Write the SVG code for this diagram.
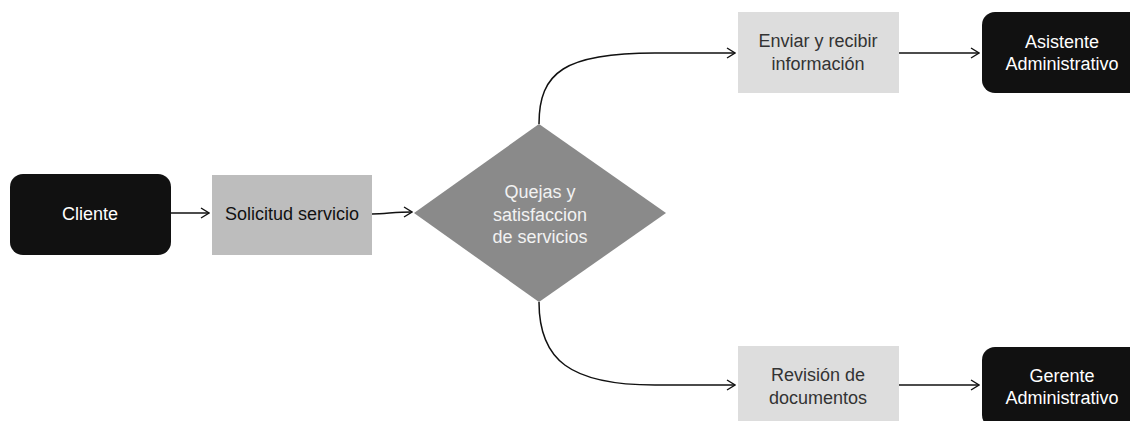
<svg xmlns="http://www.w3.org/2000/svg" width="1130" height="421" viewBox="0 0 1130 421">
<style>
.t{font-family:"Liberation Sans",Arial,sans-serif;font-size:18px;text-anchor:middle}
.dark{fill:#111}
.lt{fill:#333}
.w{fill:#fff}
.c{fill:none;stroke:#111;stroke-width:1.5}
</style>
<defs>
<marker id="a" markerWidth="10" markerHeight="12" refX="9" refY="6" orient="auto" markerUnits="userSpaceOnUse">
<path d="M1,1 L9,6 L1,11" fill="none" stroke="#111" stroke-width="1.4"/>
</marker>
</defs>
<rect width="1130" height="421" fill="#fff"/>
<g id="connectors">
<path class="c" d="M171,213 L209,213" marker-end="url(#a)"/>
<path class="c" d="M372,214 C385,214 395,212 412,212" marker-end="url(#a)"/>
<path class="c" d="M539,124 C539,72 565,53 655,53 L735,53" marker-end="url(#a)"/>
<path class="c" d="M539,302 C539,360 570,385 655,385 L735,385" marker-end="url(#a)"/>
<path class="c" d="M899,53 L979,53" marker-end="url(#a)"/>
<path class="c" d="M899,385 L979,385" marker-end="url(#a)"/>
</g>
<g id="cliente">
<rect x="10" y="174" width="161" height="81" rx="13" class="dark"/>
<text x="90" y="220" class="t w">Cliente</text>
</g>
<g id="solicitud">
<rect x="212" y="175" width="160" height="80" fill="#bdbdbd"/>
<text x="292" y="220" class="t" fill="#111">Solicitud servicio</text>
</g>
<g id="quejas">
<polygon points="539,124 666,213 539,302 414,213" fill="#8a8a8a"/>
<text x="540" y="198" class="t" fill="#f2f2f2" font-size="19.5">Quejas y</text>
<text x="540" y="221" class="t" fill="#f2f2f2" font-size="19.5">satisfaccion</text>
<text x="540" y="243" class="t" fill="#f2f2f2" font-size="19.5">de servicios</text>
</g>
<g id="enviar">
<rect x="738" y="12" width="161" height="81" fill="#dddddd"/>
<text x="818" y="47" class="t lt">Enviar y recibir</text>
<text x="818" y="70" class="t lt">información</text>
</g>
<g id="asistente">
<rect x="982" y="12" width="160" height="81" rx="13" class="dark"/>
<text x="1062" y="48" class="t w">Asistente</text>
<text x="1062" y="70" class="t w">Administrativo</text>
</g>
<g id="revision">
<rect x="738" y="346" width="161" height="81" fill="#dddddd"/>
<text x="818" y="381" class="t lt">Revisión de</text>
<text x="818" y="404" class="t lt">documentos</text>
</g>
<g id="gerente">
<rect x="982" y="347" width="160" height="81" rx="13" class="dark"/>
<text x="1062" y="382" class="t w">Gerente</text>
<text x="1062" y="404" class="t w">Administrativo</text>
</g>
</svg>
